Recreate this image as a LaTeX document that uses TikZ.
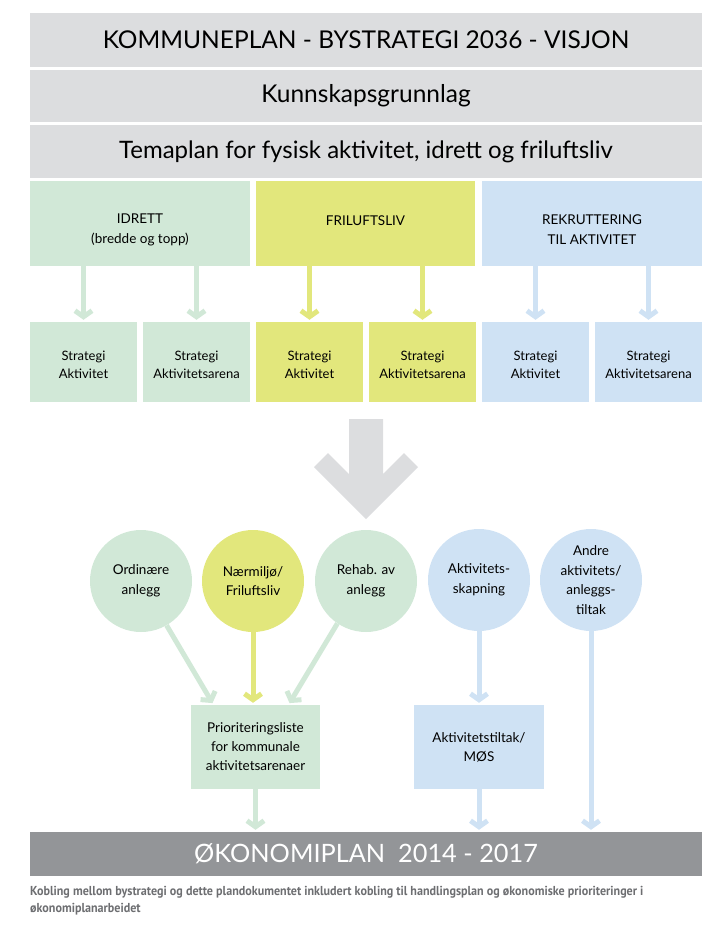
\documentclass[tikz,border=0pt]{standalone}
\usepackage{fontspec}
\setmainfont{Lato}
\newfontfamily\capfont[FakeStretch=0.93]{PT Sans}
\usetikzlibrary{arrows.meta,calc}
\definecolor{bargray}{HTML}{DCDDDF}
\definecolor{cgreen}{HTML}{D1E8D7}
\definecolor{cyellow}{HTML}{E2E77C}
\definecolor{cblue}{HTML}{CFE2F4}
\definecolor{dgray}{HTML}{939598}
\definecolor{captext}{HTML}{6D6E71}
\begin{document}
\begin{tikzpicture}[x=1pt,y=-1pt,
  bar/.style={fill=bargray, minimum width=672pt, inner sep=0pt, text=black, font=\fontsize{24.5}{28}\selectfont},
  topbox/.style={minimum width=219pt, minimum height=85pt, inner sep=0pt},
  boxtext/.style={inner sep=0pt, align=center, font=\fontsize{13.5}{20}\selectfont},
  stratbox/.style={minimum width=107pt, minimum height=80pt, inner sep=0pt},
  strattext/.style={inner sep=0pt, align=center, font=\fontsize{13}{18}\selectfont},
  circ/.style={circle, minimum size=102pt, inner sep=0pt, align=center, font=\fontsize{13.5}{19.5}\selectfont},
  lowbox/.style={minimum width=129pt, minimum height=84pt, inner sep=0pt, align=center, font=\fontsize{13.5}{19}\selectfont},
  arr/.style={line width=5pt, -{Straight Barb[length=6pt,width=17pt]}, shorten >=2pt}
]
\useasboundingbox (0,0) rectangle (726,929);

% top bars
\node[bar, minimum height=54pt] (visjon) at (366,40) {KOMMUNEPLAN - BYSTRATEGI 2036 - VISJON};
\node[bar, minimum height=52pt] (kunn) at (366,96) {Kunnskapsgrunnlag};
\node[bar, minimum height=53pt, font=\fontsize{24}{28}\selectfont] (tema) at (366,151.5) {Temaplan for fysisk aktivitet, idrett og friluftsliv};

% category boxes
\node[topbox, fill=cgreen, minimum width=220pt] (idr) at (140,223.5) {};
\node[topbox, fill=cyellow] (fril) at (365.5,223.5) {};
\node[topbox, fill=cblue, minimum width=220pt] (rekr) at (592,223.5) {};
\node[boxtext] (idrT) at (140,230) {IDRETT\\(bredde og topp)};
\node[boxtext] (frilT) at (365.5,221) {FRILUFTSLIV};
\node[boxtext] (rekrT) at (592,230) {REKRUTTERING\\TIL AKTIVITET};

% strategy boxes
\node[stratbox, fill=cgreen] (s1) at (83.5,362) {};
\node[stratbox, fill=cgreen] (s2) at (196.5,362) {};
\node[stratbox, fill=cyellow] (s3) at (309.5,362) {};
\node[stratbox, fill=cyellow] (s4) at (422.5,362) {};
\node[stratbox, fill=cblue] (s5) at (535.5,362) {};
\node[stratbox, fill=cblue] (s6) at (648.5,362) {};
\node[strattext] (t1) at (83.5,365) {Strategi\\Aktivitet};
\node[strattext] (t2) at (196.5,365) {Strategi\\Aktivitetsarena};
\node[strattext] (t3) at (309.5,365) {Strategi\\Aktivitet};
\node[strattext] (t4) at (422.5,365) {Strategi\\Aktivitetsarena};
\node[strattext] (t5) at (535.5,365) {Strategi\\Aktivitet};
\node[strattext] (t6) at (648.5,365) {Strategi\\Aktivitetsarena};

\draw[arr, cgreen] (s1.north |- idr.south) -- (s1.north);
\draw[arr, cgreen] (s2.north |- idr.south) -- (s2.north);
\draw[arr, cyellow] (s3.north |- fril.south) -- (s3.north);
\draw[arr, cyellow] (s4.north |- fril.south) -- (s4.north);
\draw[arr, cblue] (s5.north |- rekr.south) -- (s5.north);
\draw[arr, cblue] (s6.north |- rekr.south) -- (s6.north);

% big gray arrow
\fill[bargray] (349,419) -- (383,419) -- (383,474) -- (404,453) -- (418,467) -- (366,519)
  -- (314,467) -- (328,453) -- (349,474) -- cycle;

% circles
\node[circ, fill=cgreen] (c1) at (141,581) {Ordinære\\anlegg};
\node[circ, fill=cyellow] (c2) at (253,581) {Nærmiljø/\\Friluftsliv};
\node[circ, fill=cgreen] (c3) at (366,581) {Rehab. av\\anlegg};
\node[circ, fill=cblue] (c4) at (479,580) {Aktivitets-\\skapning};
\node[circ, fill=cblue] (c5) at (591,580) {Andre\\aktivitets/\\anleggs-\\tiltak};

% lower boxes
\node[lowbox, fill=cgreen] (prior) at (255.5,747) {Prioriteringsliste\\for kommunale\\aktivitetsarenaer};
\node[lowbox, fill=cblue, minimum width=130pt] (akt) at (479,747) {Aktivitetstiltak/\\MØS};

% økonomiplan
\node[fill=dgray, minimum width=672pt, minimum height=44pt, inner sep=0pt, text=white,
  font=\fontsize{25.3}{28}\selectfont] (okon) at (366,854) {ØKONOMIPLAN\ \ 2014 - 2017};

% lower arrows
\draw[arr, cgreen] (c1.-60) -- ([xshift=-42pt]prior.north);
\draw[arr, cyellow] (c2.south) -- (c2.south |- prior.north);
\draw[arr, cgreen] (c3.-124) -- ([xshift=33pt]prior.north);
\draw[arr, cgreen] (prior.south) -- (prior.south |- okon.north);
\draw[arr, cblue] (c4.south) -- (c4.south |- akt.north);
\draw[arr, cblue] (akt.south) -- (akt.south |- okon.north);
\draw[arr, cblue] (c5.south) -- (c5.south |- okon.north);

% caption
\node[anchor=north west, align=left, inner sep=0pt, text=captext,
  font=\capfont\bfseries\fontsize{13}{17}\selectfont] (cap) at (30,886)
  {Kobling mellom bystrategi og dette plandokumentet inkludert kobling til handlingsplan og økonomiske prioriteringer i\\økonomiplanarbeidet};
\end{tikzpicture}
\end{document}
